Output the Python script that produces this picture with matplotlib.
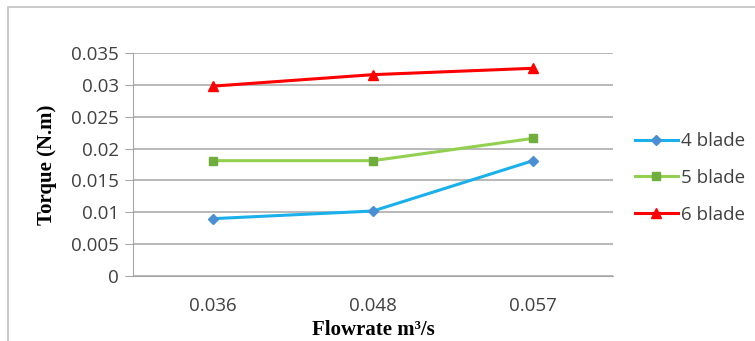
import matplotlib.pyplot as plt
from matplotlib.patches import Rectangle

# torque vs flowrate for 3 rotor types
flowrate = ["0.036", "0.048", "0.057"]
torque_4 = [0.0090, 0.0102, 0.0181]
torque_5 = [0.0181, 0.0181, 0.0216]
torque_6 = [0.0298, 0.0316, 0.0326]
yticks = [0, 0.005, 0.01, 0.015, 0.02, 0.025, 0.03, 0.035]
ytick_labels = ["0", "0.005", "0.01", "0.015", "0.02", "0.025", "0.03", "0.035"]

fig = plt.figure(figsize=(7.55, 3.41), dpi=100)
# chart area border
fig.patches.append(Rectangle((0.0106, -0.05), 1.2, 0.9795 + 0.05, transform=fig.transFigure,
                             fill=False, edgecolor="#c0c0c0", linewidth=1.2))
ax = fig.add_axes([0.1762, 0.1906, 0.6358, 0.654])

x = range(len(flowrate))
ax.plot(x, torque_4, color="#1ab0ec", lw=2.2, marker="D", ms=5.5,
        mfc="#4a8fd4", mec="#4a8fd4", label="4 blade")
ax.plot(x, torque_5, color="#92d050", lw=2.2, marker="s", ms=5.5,
        mfc="#6fae3c", mec="#6fae3c", label="5 blade")
ax.plot(x, torque_6, color="#ff0000", lw=2.2, marker="^", ms=7.5,
        mfc="#ff0000", mec="#ff0000", label="6 blade")

ax.set_xlim(-0.5, 2.5)
ax.set_ylim(0, 0.035)
ax.set_xticks(list(x))
ax.set_xticklabels(flowrate)
ax.set_yticks(yticks)
ax.set_yticklabels(ytick_labels)
ax.grid(axis="y", color="#a6a6a6", lw=1.1)
ax.set_axisbelow(True)
for s in ["top", "right"]:
    ax.spines[s].set_visible(False)
ax.spines["left"].set_color("#a6a6a6")
ax.spines["bottom"].set_color("#a6a6a6")
ax.tick_params(axis="y", length=6, color="#a6a6a6", labelsize=13.5, pad=4, labelcolor="#404040")
ax.tick_params(axis="x", length=0, labelsize=13.5, pad=15, labelcolor="#404040")
for lab in ax.get_xticklabels() + ax.get_yticklabels():
    lab.set_fontfamily("Open Sans")

ax.set_ylabel("Torque (N.m)", fontfamily="Liberation Serif", fontweight="bold", fontsize=15, labelpad=10)
ax.set_xlabel("Flowrate m³/s", fontfamily="Liberation Serif", fontweight="bold", fontsize=15, labelpad=4)

leg = ax.legend(loc="center left", bbox_to_anchor=(1.01, 0.44), frameon=False,
                prop={"family": "Open Sans", "size": 13.5}, handlelength=2.3,
                handletextpad=0.15, labelspacing=1.0)
for t in leg.get_texts():
    t.set_color("#404040")

fig.savefig("out.png", dpi=100)
